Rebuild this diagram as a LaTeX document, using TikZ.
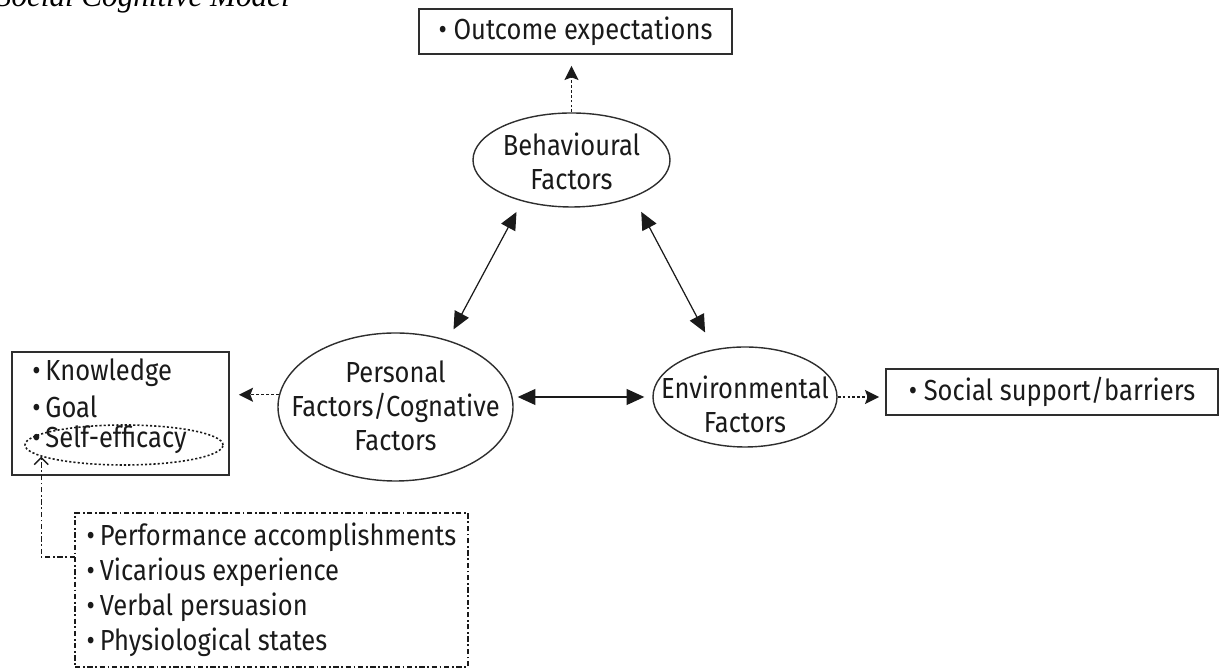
\documentclass[tikz,border=0pt]{standalone}
\usepackage{fontspec}
\setmainfont[FakeStretch=0.88]{Fira Sans}
\newfontfamily\ttlfont{Liberation Serif}
\usetikzlibrary{shapes.geometric,arrows.meta}
\definecolor{SCInk} {HTML}{1A1A1A}
\definecolor{SCLine}{HTML}{2E2E2E}
\newcommand\scfont{\fontsize{16.5}{19.4}\selectfont}

\begin{document}
\begin{tikzpicture}[
  fac/.style={draw=SCLine,ellipse,line width=0.8pt,inner sep=0pt},
  factxt/.style={align=center,font=\scfont,text=SCInk,inner sep=0pt},
  lst/.style={draw=SCLine,line width=1.1pt,inner sep=0pt,
              font=\scfont,text=SCInk},
  item/.style={anchor=west,font=\scfont,text=SCInk,inner sep=0pt},
  dbl/.style={{Triangle[length=10pt,width=9pt]}-{Triangle[length=10pt,width=9pt]},
              line width=0.7pt,SCInk},
  dotarr/.style={-{Stealth[length=8pt,width=8pt,inset=1.5pt]},line width=0.8pt,
                 dash pattern=on 1.6pt off 1.2pt,SCInk},
  srcline/.style={line width=0.8pt,SCInk,
                  dash pattern=on 3pt off 1.5pt on 1pt off 1.5pt}
]
  \useasboundingbox (0,0) rectangle (24.42,13.4);

  % caption, cut at the top
  \node[anchor=base east,font=\ttlfont\itshape\fontsize{17.7}{20}\selectfont,
        inner sep=0pt] (ttl) at (5.8,13.27) {Social Cognitive Model};

  % Behavioural
  \node[fac,minimum width=3.94cm,minimum height=1.88cm] (beh) at (11.43,10.2) {};
  \node[factxt] (behtxt) at (11.43,10.17) {Behavioural\\Factors};
  \node[lst,minimum width=6.26cm,minimum height=0.9cm] (ocbox) at (11.51,12.77)
    {\textbullet\ Outcome expectations};

  % Personal
  \node[fac,minimum width=4.7cm,minimum height=2.96cm] (per) at (7.91,5.26) {};
  \node[factxt] (pertxt) at (7.91,5.28) {Personal\\Factors/Cognative\\Factors};
  \node[lst,minimum width=4.34cm,minimum height=2.46cm] (pfbox) at (2.41,5.13) {};
  \node[item] (kn) at (0.64,5.94) {\textbullet\,Knowledge};
  \node[item] (gl) at (0.64,5.26) {\textbullet\,Goal};
  \node[item] (se) at (0.64,4.6)  {\textbullet\,Self-efficacy};
  \node[draw=SCInk,ellipse,line width=0.9pt,dash pattern=on 1.2pt off 1.2pt,
        minimum width=3.96cm,minimum height=0.8cm] (seell) at (2.48,4.5) {};

  % Environmental
  \node[fac,minimum width=3.68cm,minimum height=2.0cm] (env) at (14.9,5.46) {};
  \node[factxt] (envtxt) at (14.9,5.32) {Environmental\\Factors};
  \node[lst,minimum width=6.64cm,minimum height=0.92cm] (ssbox) at (21.04,5.56)
    {\textbullet\ Social support/barriers};

  % sources of self-efficacy
  \node[lst,srcline,minimum width=7.86cm,minimum height=3.08cm,align=left,
        font=\fontsize{16.5}{19.9}\selectfont] (srcbox) at (5.43,1.6)
    {\textbullet\,Performance accomplishments\\\textbullet\,Vicarious experience\\
     \textbullet\,Verbal persuasion\\\textbullet\,Physiological states};
  \coordinate (tap) at (1.5,2.26);

  % Arrows
  \draw[dbl,shorten <=0.24cm,shorten >=0.24cm] (beh.220) -- (per.52.5);
  \draw[dbl,shorten <=0.33cm,shorten >=0.38cm] (beh.329.7) -- (env.123.4);
  \draw[dbl,shorten <=0.08cm,shorten >=0.16cm] (per.east |- env.west) -- (env.west);
  \draw[dotarr,shorten >=0.22cm] (beh.north) -- (beh.north |- ocbox.south);
  \draw[dotarr,shorten >=0.18cm] (per.174) -- (per.174 -| pfbox.east);
  \draw[dotarr,shorten >=0.12cm] (env.east) -- (env.east -| ssbox.west);
  \draw[srcline,-{Straight Barb[length=4pt,width=8pt]}] (tap) -| (seell.188);
\end{tikzpicture}
\end{document}
